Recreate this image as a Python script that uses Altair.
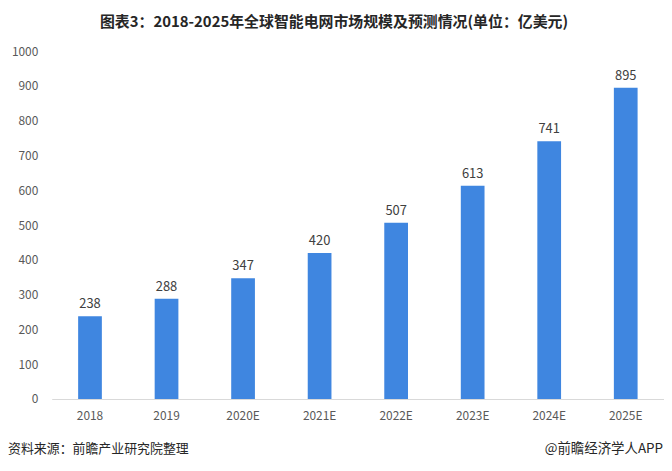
import altair as alt
import pandas as pd

years = ["2018", "2019", "2020E", "2021E", "2022E", "2023E", "2024E", "2025E"]
values = [238, 288, 347, 420, 507, 613, 741, 895]
y_ticks = [0, 100, 200, 300, 400, 500, 600, 700, 800, 900, 1000]
title_text = "图表3：2018-2025年全球智能电网市场规模及预测情况(单位：亿美元)"
source_text = "资料来源：前瞻产业研究院整理"
brand_text = "@前瞻经济学人APP"

df = pd.DataFrame({"year": years, "value": values})
FONT = "Noto Sans CJK SC"

base = alt.Chart(df)

x_enc = alt.X("year:N", sort=years, title=None,
              scale=alt.Scale(paddingInner=0.69, paddingOuter=0.345),
              axis=alt.Axis(labelAngle=0, ticks=False, domainColor="#d9d9d9",
                            labelPadding=12, labelFontSize=12, labelColor="#595959",
                            labelFont=FONT))
y_enc = alt.Y("value:Q", title=None,
              scale=alt.Scale(domain=[0, 1000]),
              axis=alt.Axis(values=y_ticks, format="d", grid=False, ticks=False,
                            domain=False, labelPadding=14, labelFontSize=12,
                            labelColor="#595959", labelFont=FONT))

bars = base.mark_bar(color="#3f86e0").encode(x=x_enc, y=y_enc)
labels = base.mark_text(dy=-12, fontSize=13, color="#404040", font=FONT).encode(
    x=x_enc, y=y_enc, text="value:Q")

title = alt.Chart(pd.DataFrame({"t": [title_text]})).mark_text(
    fontSize=15, fontWeight="bold", font=FONT, color="#262626", align="center"
).encode(x=alt.value(284), y=alt.value(-29), text="t:N")

source = alt.Chart(pd.DataFrame({"t": [source_text]})).mark_text(
    fontSize=13, font=FONT, color="#262626", align="left"
).encode(x=alt.value(-44), y=alt.value(50 + 350), text="t:N")

brand = alt.Chart(pd.DataFrame({"t": [brand_text]})).mark_text(
    fontSize=13.5, font=FONT, color="#262626", align="right"
).encode(x=alt.value(615), y=alt.value(50 + 350), text="t:N")

chart = alt.layer(bars, labels, title, source, brand).properties(
    width=616, height=350,
    autosize=alt.AutoSizeParams(type="none"),
    padding={"left": 44, "top": 42, "right": 0, "bottom": 63},
    background="white",
).configure_view(stroke=None)

chart.save("out.html", embed_options={"renderer": "svg", "actions": False})
